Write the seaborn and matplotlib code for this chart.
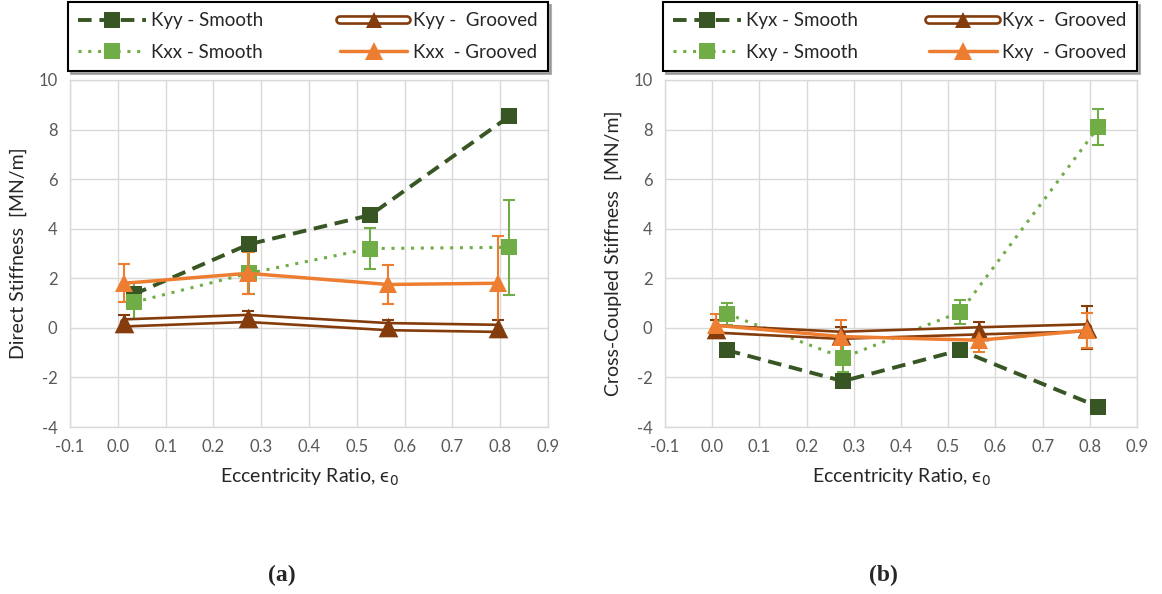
import numpy as np
import pandas as pd
import matplotlib
matplotlib.use("Agg")
import matplotlib.pyplot as plt
import seaborn as sns
from matplotlib.lines import Line2D

# ---------------- data ----------------
# Panel (a) direct stiffness
a_smooth_main_x = [0.033, 0.274, 0.528, 0.819]
a_smooth_main_y = [1.35, 3.37, 4.55, 8.53]
a_smooth_main_err = [0.15, 0.15, 0.1, 0.15]

a_smooth_other_x = [0.033, 0.274, 0.528, 0.819]
a_smooth_other_y = [1.03, 2.2, 3.2, 3.25]
a_smooth_other_err = [0.8, 0.85, 0.82, 1.92]

a_groove_main_x = [0.014, 0.272, 0.565, 0.795]
a_groove_main_y = [0.2, 0.38, 0.05, -0.02]
a_groove_main_err = [0.3, 0.32, 0.25, 0.35]

a_groove_other_x = [0.014, 0.272, 0.565, 0.795]
a_groove_other_y = [1.8, 2.2, 1.75, 1.8]
a_groove_other_err = [0.77, 0.85, 0.8, 1.9]

# Panel (b) cross-coupled stiffness
b_smooth_main_x = [0.031, 0.277, 0.525, 0.818]
b_smooth_main_y = [-0.9, -2.15, -0.9, -3.18]
b_smooth_main_err = [0.1, 0.15, 0.1, 0.2]

b_smooth_other_x = [0.031, 0.277, 0.525, 0.818]
b_smooth_other_y = [0.57, -1.2, 0.63, 8.1]
b_smooth_other_err = [0.45, 0.6, 0.48, 0.72]

b_groove_main_x = [0.009, 0.272, 0.565, 0.795]
b_groove_main_y = [-0.05, -0.3, -0.12, 0.0]
b_groove_main_err = [0.35, 0.35, 0.35, 0.87]

b_groove_other_x = [0.009, 0.272, 0.565, 0.795]
b_groove_other_y = [0.1, -0.35, -0.5, -0.1]
b_groove_other_err = [0.45, 0.65, 0.47, 0.7]

labels_a = ["Kyy - Smooth", "Kxx - Smooth", "Kyy -  Grooved", "Kxx  - Grooved"]
labels_b = ["Kyx - Smooth", "Kxy - Smooth", "Kyx -  Grooved", "Kxy  - Grooved"]

x_ticks = [-0.1, 0.0, 0.1, 0.2, 0.3, 0.4, 0.5, 0.6, 0.7, 0.8, 0.9]
y_ticks = [-4, -2, 0, 2, 4, 6, 8, 10]

DARK_GREEN = "#375623"
LIGHT_GREEN = "#70AD47"
BROWN = "#843C0C"
ORANGE = "#ED7D31"
TXT = "#595959"

sns.set_style("white")
plt.rcParams["font.family"] = ["Lato", "DejaVu Sans"]
plt.rcParams["mathtext.fontset"] = "dejavusans"

fig = plt.figure(figsize=(11.62, 5.94), dpi=100)
W, H = 1162, 594
ax_a = fig.add_axes([70 / W, 1 - 427 / H, 478 / W, 347 / H])
ax_b = fig.add_axes([665 / W, 1 - 427 / H, 472 / W, 347 / H])

MS = 11.5


def errs(ax, x, y, e, color, z):
    ax.errorbar(x, y, yerr=e, fmt="none", ecolor=color, elinewidth=1.5,
                capsize=4.5, capthick=1.5, zorder=z)


def draw_panel(ax, sm, so, gm, go, labels, ylabel):
    # Smooth main (dashed dark green squares)
    errs(ax, sm[0], sm[1], sm[2], DARK_GREEN, 2)
    sns.lineplot(x=sm[0], y=sm[1], ax=ax, color=DARK_GREEN, linestyle=(0, (3.5, 2)),
                 linewidth=2.8, marker="s", markersize=MS, markeredgewidth=0,
                 sort=False, zorder=3)
    # Smooth other (dotted light green squares)
    errs(ax, so[0], so[1], so[2], LIGHT_GREEN, 2)
    sns.lineplot(x=so[0], y=so[1], ax=ax, color=LIGHT_GREEN, linestyle=(0, (1, 2.2)),
                 linewidth=2.2, marker="s", markersize=MS, markeredgewidth=0,
                 sort=False, zorder=3)
    # Grooved main (double brown line)
    errs(ax, gm[0], gm[1], gm[2], BROWN, 2)
    sns.lineplot(x=gm[0], y=gm[1], ax=ax, color=BROWN, linewidth=7,
                 sort=False, zorder=3)
    sns.lineplot(x=gm[0], y=gm[1], ax=ax, color="white", linewidth=3.2,
                 sort=False, zorder=3.1)
    sns.scatterplot(x=gm[0], y=gm[1], ax=ax, color=BROWN, marker="^", s=200,
                    linewidth=0, zorder=3.2)
    # Grooved other (solid orange triangles)
    errs(ax, go[0], go[1], go[2], ORANGE, 2)
    sns.lineplot(x=go[0], y=go[1], ax=ax, color=ORANGE, linewidth=2.5,
                 marker="^", markersize=MS + 1.5, markeredgewidth=0,
                 sort=False, zorder=3.3)

    ax.set_xlim(-0.1, 0.9)
    ax.set_ylim(-4, 10)
    ax.set_xticks(x_ticks)
    ax.set_xticklabels([f"{t:.1f}" for t in x_ticks])
    ax.set_yticks(y_ticks)
    ax.set_yticklabels([str(t) for t in y_ticks])
    ax.grid(True, color="#d9d9d9", linewidth=1.0)
    ax.set_axisbelow(True)
    for s in ax.spines.values():
        s.set_color("#d9d9d9")
        s.set_linewidth(1.0)
    ax.tick_params(axis="both", length=0, labelsize=12, colors=TXT, pad=9)
    ax.set_xlabel("Eccentricity Ratio, ϵ$_0$", fontsize=14, color="#262626",
                  labelpad=8)
    ax.set_ylabel(ylabel, fontsize=14, color="#262626", labelpad=8)
    leg = ax.get_legend()
    if leg is not None:
        leg.remove()

    h1 = Line2D([], [], color=DARK_GREEN, linestyle=(0, (3.5, 2)), linewidth=2.8,
                marker="s", markersize=MS, markeredgewidth=0)
    h2 = Line2D([], [], color=LIGHT_GREEN, linestyle=(0, (1, 2.2)), linewidth=2.2,
                marker="s", markersize=MS, markeredgewidth=0)
    h3 = (Line2D([], [], color=BROWN, linewidth=7),
          Line2D([], [], color="white", linewidth=3.2),
          Line2D([], [], color=BROWN, linestyle="none", marker="^",
                 markersize=MS, markeredgewidth=0))
    h4 = Line2D([], [], color=ORANGE, linewidth=2.5, marker="^",
                markersize=MS + 1.5, markeredgewidth=0)
    bb = ax.get_position()
    lg = fig.legend([h1, h2, h3, h4], labels, ncol=2, loc="center",
                    bbox_to_anchor=(bb.x0 - 2 / W, 1 - 70 / H, bb.width + 2 / W, 67 / H),
                    mode="expand", fontsize=13.5, frameon=True, fancybox=False,
                    shadow={"color": "#7f7f7f", "alpha": 0.6},
                    edgecolor="black", handlelength=3.6, handletextpad=0.3,
                    columnspacing=2.0, labelspacing=0.75, borderpad=0.55,
                    borderaxespad=0)
    lg.get_frame().set_linewidth(1.5)
    for t in lg.get_texts():
        t.set_color("#262626")


draw_panel(ax_a,
           (a_smooth_main_x, a_smooth_main_y, a_smooth_main_err),
           (a_smooth_other_x, a_smooth_other_y, a_smooth_other_err),
           (a_groove_main_x, a_groove_main_y, a_groove_main_err),
           (a_groove_other_x, a_groove_other_y, a_groove_other_err),
           labels_a, "Direct Stiffness  [MN/m]")
draw_panel(ax_b,
           (b_smooth_main_x, b_smooth_main_y, b_smooth_main_err),
           (b_smooth_other_x, b_smooth_other_y, b_smooth_other_err),
           (b_groove_main_x, b_groove_main_y, b_groove_main_err),
           (b_groove_other_x, b_groove_other_y, b_groove_other_err),
           labels_b, "Cross-Coupled Stiffness  [MN/m]")

fig.text(282 / W, 1 - 575 / H, "(a)", ha="center", va="center",
         fontsize=17, fontweight="bold", family="Liberation Serif")
fig.text(883 / W, 1 - 575 / H, "(b)", ha="center", va="center",
         fontsize=17, fontweight="bold", family="Liberation Serif")

fig.savefig("out.png", dpi=100)
